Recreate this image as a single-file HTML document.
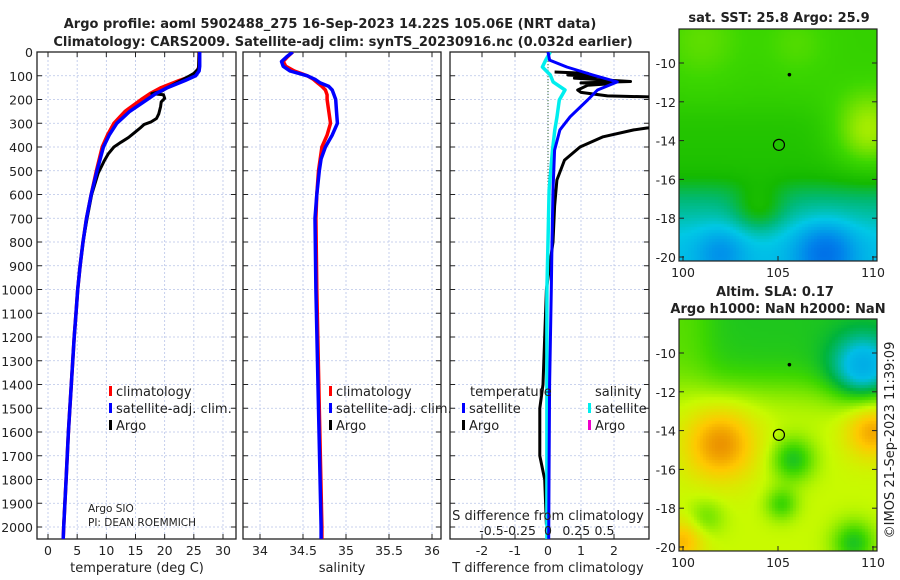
<!DOCTYPE html>
<html><head><meta charset="utf-8">
<style>
html,body{margin:0;padding:0;background:#fff;}
body{width:900px;height:580px;overflow:hidden;position:relative;font-family:"Liberation Sans","DejaVu Sans",sans-serif;}
svg{position:absolute;left:0;top:0;}
canvas{position:absolute;}
</style></head><body>
<canvas id="sst" width="198" height="232" style="left:679px;top:29px;"></canvas>
<canvas id="sla" width="198" height="232" style="left:679px;top:319px;"></canvas>
<svg id="chart" width="900" height="580" xmlns="http://www.w3.org/2000/svg" font-family="DejaVu Sans, Liberation Sans, sans-serif"></svg>
<script>
// ---- data arrays ----
const tDepth   = [0,60,80,100,120,150,175,200,250,300,350,400,500,600,700,800,900,1000,1100,1200,1400,1600,1800,2000,2050];
const tClim    = [25.9,25.9,25.6,24.8,22.5,19.4,17.5,16,13.2,11.3,10.2,9.3,8.3,7.4,6.6,6,5.5,5.1,4.8,4.5,4,3.5,3.1,2.7,2.6];
const tSat     = [26.0,26.0,25.9,25.3,23.5,20.5,18.5,17,14,11.8,10.5,9.5,8.4,7.4,6.6,6,5.5,5.1,4.8,4.5,4,3.5,3.1,2.7,2.6];
const argoDepth= [0,70,90,100,120,150,165,175,180,195,210,230,260,280,295,305,320,340,360,380,400,430,460,510,600,700,800,900,1000,1100,1200,1400,1600,1800,1990];
const argoTemp = [25.9,25.8,25,24.3,22.8,20.5,19.5,17.8,19.8,20,19.4,19.3,19,18.6,17.6,16.5,15.8,14.8,13.8,12.5,11.3,10.3,9.6,8.6,7.5,6.7,6,5.5,5.1,4.8,4.5,4,3.5,3.1,2.7];
const sDepth   = [0,20,40,60,80,100,115,130,145,160,180,200,250,300,350,400,450,500,600,700,1000,1500,2000,2050];
const sClim    = [34.38,34.32,34.27,34.3,34.4,34.55,34.62,34.67,34.72,34.76,34.78,34.78,34.8,34.82,34.78,34.72,34.7,34.68,34.66,34.65,34.66,34.69,34.72,34.72];
const sSat     = [34.38,34.31,34.25,34.27,34.35,34.55,34.64,34.7,34.8,34.84,34.86,34.88,34.89,34.9,34.84,34.76,34.71,34.69,34.66,34.64,34.65,34.68,34.71,34.71];
const dDepth   = [0,34,63,97,126,160,202,273,328,413,581,800,1000,1400,1800,2050];
const dTSat    = [0,0.05,0.57,1.36,2.1,1.5,1.2,0.67,0.36,0.2,0.15,0.12,0.1,0.05,0.03,0.02];
const dSSat    = [0.02,-0.02,-0.05,0.02,0.045,0.15,0.1,0.08,0.06,0.04,0.01,0.0,-0.01,-0.01,-0.01,-0.01];
const dArgoDepth=[84,90,97,103,110,117,124,130,134,140,160,170,185,192,195,250,300,320,328,357,400,455,539,650,800,1000,1200,1400,1500,1700,1800,1990];
const dTArgo   = [0.2,1.2,0.6,1.5,0.8,1.6,2.5,1.0,1.9,1.2,0.9,1.0,1.8,4,5,6,5,3.0,2.6,1.67,0.97,0.5,0.27,0.2,0.15,-0.05,-0.1,-0.15,-0.25,-0.25,-0.1,-0.05];
const depthTicks = [0,100,200,300,400,500,600,700,800,900,1000,1100,1200,1300,1400,1500,1600,1700,1800,1900,2000];
const tTicks = [0,5,10,15,20,25,30];
const sTicks = [34,34.5,35,35.5,36];
const sTickLabels = ["34","34.5","35","35.5","36"];
const dTTicks = [-2,-1,0,1,2];
const dSTicks = [-0.5,-0.25,0,0.25,0.5];
const dSTickLabels = ["-0.5","-0.25","0","0.25","0.5"];
const latTicks = [-10,-12,-14,-16,-18,-20];
const lonTicks = [100,105,110];
const floatPos = [105.05,-14.22];
const starPos = [105.6,-10.6];

// ---- axes ----
const TOP=52, BOT=539;
const yD = d => TOP + d*0.2375;
const p1 = {x0:37,x1:236}, p2={x0:243,x1:441}, p3={x0:450,x1:649};
const xT = v => 48 + v*5.833;
const xS = v => 260 + (v-34)*86;
const xDT = v => 548 + v*33;
const xDS = v => 548 + v*113;
const mapX = lon => 683 + (lon-100)*19;
const mapY0 = lat => 63 + (-10-lat)*19.4;
const mapY1 = lat => 353 + (-10-lat)*19.4;

const svg = document.getElementById('chart');
const NS='http://www.w3.org/2000/svg';
function mk(tag, attrs, parent){const e=document.createElementNS(NS,tag);for(const k in attrs)e.setAttribute(k,attrs[k]);(parent||svg).appendChild(e);return e;}
function txt(x,y,s,size,anchor,weight,parent){const e=mk('text',{x:x,y:y,'font-size':size,'text-anchor':anchor||'start',fill:'#222','font-weight':weight||'normal'},parent);e.textContent=s;return e;}

const defs = mk('defs',{});
[[p1,'c1'],[p2,'c2'],[p3,'c3']].forEach(([p,id])=>{const c=mk('clipPath',{id:id},defs);mk('rect',{x:p.x0,y:TOP,width:p.x1-p.x0,height:BOT-TOP},c);});

function panel(p, xTicks, xf, name){
  const g = mk('g',{});
  
  
  depthTicks.forEach(d=>{mk('line',{x1:p.x0,x2:p.x1,y1:yD(d),y2:yD(d),stroke:'#b8c4e8','stroke-width':0.8,'stroke-dasharray':'2,2'},g);
    mk('line',{x1:p.x0,x2:p.x0+5,y1:yD(d),y2:yD(d),stroke:'#222'},g);
    mk('line',{x1:p.x1-5,x2:p.x1,y1:yD(d),y2:yD(d),stroke:'#222'},g);});
  xTicks.forEach(v=>{const x=xf(v);mk('line',{x1:x,x2:x,y1:TOP,y2:BOT,stroke:'#b8c4e8','stroke-width':0.8,'stroke-dasharray':'2,2'},g);
    mk('line',{x1:x,x2:x,y1:BOT-5,y2:BOT,stroke:'#222'},g);mk('line',{x1:x,x2:x,y1:TOP,y2:TOP+5,stroke:'#222'},g);});
  mk('rect',{x:p.x0,y:TOP,width:p.x1-p.x0,height:BOT-TOP,fill:'none',stroke:'#222','stroke-width':1.3},g);
  return g;
}
function line(xs, ds, xf, color, w, clip, name){
  const pts = xs.map((v,i)=>xf(v).toFixed(1)+','+yD(ds[i]).toFixed(1)).join(' ');
  const e = mk('polyline',{points:pts,fill:'none',stroke:color,'stroke-width':w,'stroke-linejoin':'round','clip-path':'url(#'+clip+')'});
  
  
  return e;
}

txt(330,28,'Argo profile: aoml 5902488_275 16-Sep-2023 14.22S 105.06E (NRT data)',13,'middle','bold');
txt(343,46,'Climatology: CARS2009. Satellite-adj clim: synTS_20230916.nc (0.032d earlier)',13,'middle','bold');

panel(p1,tTicks,xT,'temperature-panel');
depthTicks.forEach(d=>txt(33,yD(d)+5,String(d),12.5,'end'));
tTicks.forEach(v=>txt(xT(v),555,String(v),12.5,'middle'));
txt(137,572,'temperature (deg C)',13,'middle');
line(tClim,tDepth,xT,'#ff0000',3.5,'c1','temp-climatology-line');
line(argoTemp,argoDepth,xT,'#000',3,'c1','temp-argo-line');
line(tSat,tDepth,xT,'#0000ff',3.5,'c1','temp-satellite-line');

panel(p2,sTicks,xS,'salinity-panel');
sTicks.forEach((v,i)=>txt(xS(v),555,sTickLabels[i],12.5,'middle'));
txt(342,572,'salinity',13,'middle');
line(sClim,sDepth,xS,'#ff0000',3.5,'c2','sal-climatology-line');
line(sSat,sDepth,xS,'#0000ff',3.5,'c2','sal-satellite-line');

panel(p3,dTTicks,xDT,'difference-panel');
mk('line',{x1:548,x2:548,y1:TOP,y2:BOT,stroke:'#336633','stroke-width':1,'stroke-dasharray':'1,2'});
dTTicks.forEach(v=>txt(xDT(v),555,String(v),12.5,'middle'));
txt(548,572,'T difference from climatology',13,'middle');
line(dTArgo,dArgoDepth,xDT,'#000',3,'c3','tdiff-argo-line');
line(dSSat,dDepth,xDS,'#00eeee',3.5,'c3','sdiff-satellite-line');
line(dTSat,dDepth,xDT,'#0000ff',3,'c3','tdiff-satellite-line');
txt(548,520,'S difference from climatology',13,'middle');
dSTicks.forEach((v,i)=>txt(xDS(v),535,dSTickLabels[i],12.5,'middle'));

function legEntry(x,y,color,label,name){
  const g=mk('g',{});
  
  
  mk('rect',{x:x,y:y-10,width:3,height:10,fill:color},g);
  txt(x+7,y,label,13,'start','normal',g);
}
legEntry(109,396,'#ff0000','climatology','legend-climatology');
legEntry(109,413,'#0000ff','satellite-adj. clim.','legend-satellite-adj');
legEntry(109,430,'#000','Argo','legend-argo');
legEntry(329,396,'#ff0000','climatology','legend-sal-climatology');
legEntry(329,413,'#0000ff','satellite-adj. clim.','legend-sal-satellite-adj');
legEntry(329,430,'#000','Argo','legend-sal-argo');
txt(470,396,'temperature',13);
legEntry(462,413,'#0000ff','satellite','legend-tdiff-satellite');
legEntry(462,430,'#000','Argo','legend-tdiff-argo');
txt(595,396,'salinity',13);
legEntry(588,413,'#00eeee','satellite','legend-sdiff-satellite');
legEntry(588,430,'#ee00cc','Argo','legend-sdiff-argo');
txt(88,512,'Argo SIO',10.5);
txt(88,526,'PI: DEAN ROEMMICH',10.5);

function mapAxes(top, bot, yf, name){
  const g=mk('g',{});
  
  
  mk('rect',{x:679,y:top,width:198,height:bot-top,fill:'none',stroke:'#222','stroke-width':1.2},g);
  latTicks.forEach(l=>{const y=yf(l);mk('line',{x1:877,x2:872,y1:y,y2:y,stroke:'#222'},g);mk('line',{x1:679,x2:684,y1:y,y2:y,stroke:'#222'},g);txt(676,y+5,String(l),12.5,'end','normal',g);});
  lonTicks.forEach(l=>{const x=mapX(l);mk('line',{x1:x,x2:x,y1:bot,y2:bot-5,stroke:'#222'},g);txt(x,bot+16,String(l),12.5,'middle','normal',g);});
  mk('circle',{cx:mapX(floatPos[0]),cy:yf(floatPos[1]),r:5.5,fill:'none',stroke:'#000','stroke-width':1.2},g);
  mk('circle',{cx:mapX(starPos[0]),cy:yf(starPos[1]),r:1.8,fill:'#000'},g);
}
mapAxes(29,261,mapY0,'sst-map-axes');
mapAxes(319,551,mapY1,'sla-map-axes');
txt(779,22,'sat. SST: 25.8 Argo: 25.9',13,'middle','bold');
txt(775,296,'Altim. SLA: 0.17',13,'middle','bold');
txt(778,313,'Argo h1000: NaN h2000: NaN',13,'middle','bold');
const rt=txt(0,0,'©IMOS 21-Sep-2023 11:39:09',13,'middle');
rt.setAttribute('transform','translate(894,440) rotate(-90)');

function g2(lon,lat,cx,cy,s){return Math.exp(-((lon-cx)**2+(lat-cy)**2)/(2*s*s));}
function sig(z){return 1/(1+Math.exp(-z));}
function cmap(stops,v){v=Math.max(0,Math.min(1,v));for(let i=1;i<stops.length;i++){if(v<=stops[i][0]){const a=stops[i-1],b=stops[i],t=(v-a[0])/(b[0]-a[0]);return [0,1,2].map(k=>Math.round(a[1][k]+(b[1][k]-a[1][k])*t));}}return stops[stops.length-1][1];}
const sstStops=[[0,[0,60,220]],[0.2,[0,130,235]],[0.35,[0,200,230]],[0.45,[0,185,120]],[0.55,[20,185,0]],[0.7,[60,215,0]],[0.85,[160,235,0]],[1,[230,255,0]]];
const slaStops=[[0,[0,120,230]],[0.3,[0,190,230]],[0.45,[0,180,60]],[0.55,[60,215,0]],[0.7,[200,250,0]],[0.85,[255,200,0]],[1,[225,120,0]]];
function fill(id,f,stops){
  const c=document.getElementById(id).getContext('2d');const cs=3;
  for(let px=0;px<198;px+=cs)for(let py=0;py<232;py+=cs){
    const lon=99.8+(px+1.5)/19, lat=-8.25-(py+1.5)/19.4;
    const col=cmap(stops,f(lon,lat));c.fillStyle='rgb('+col.join(',')+')';c.fillRect(px,py,cs,cs);}
}
fill('sst',(lon,lat)=>{let v=0.6;v+=0.07*sig((lat+12.5)*2);v+=0.08*g2(lon,lat,101,-8.8,1.5);v+=0.06*g2(lon,lat,106,-9,1.2);
  v+=0.25*g2(lon,lat,109.8,-13.5,1.3);
  v-=0.17*sig(-(lat+16.3)*2);
  v-=0.1*sig(-(lat+18.3)*2);
  v+=0.13*g2(lon,lat,104,-17.5,0.9);
  v-=0.18*g2(lon,lat,107.5,-19.8,1.1);v-=0.1*g2(lon,lat,102,-19.8,0.9);
  return v;},sstStops);
fill('sla',(lon,lat)=>{let v=0.7;
  v-=0.2*sig((lat+11.8)*1.5)*(0.6+0.4*sig((lon-101.3)*2));
  v-=0.3*g2(lon,lat,109.5,-10.8,1.2);
  v+=0.25*g2(lon,lat,102,-14.7,1.3);v+=0.22*g2(lon,lat,110,-14,1);v+=0.18*g2(lon,lat,100,-19.7,0.8);
  v-=0.2*g2(lon,lat,105.8,-15.5,0.8);v-=0.15*g2(lon,lat,105.2,-17.8,0.6);v-=0.2*g2(lon,lat,109,-19.8,0.8);
  v-=0.1*g2(lon,lat,101.2,-18.5,0.7);
  return v;},slaStops);
</script>
</body></html>
